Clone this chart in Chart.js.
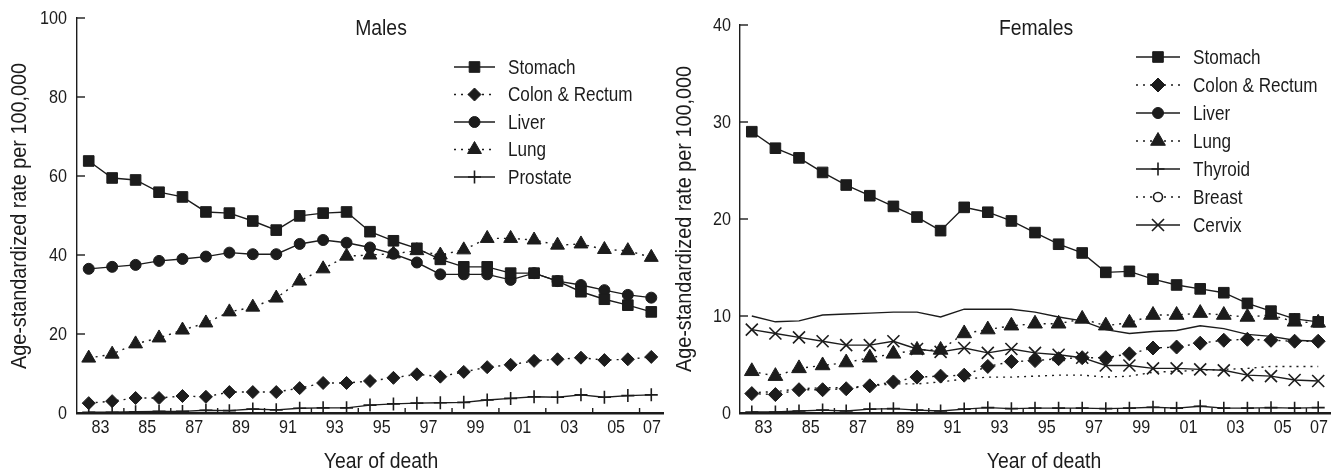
<!DOCTYPE html>
<html>
<head>
<meta charset="utf-8">
<script src="https://cdn.jsdelivr.net/npm/chart.js@4.4.1/dist/chart.umd.min.js"></script>
<style>
  html, body { margin: 0; padding: 0; background: #fff; }
  #wrap { display: flex; width: 1344px; height: 475px; }
  canvas { display: block; }
</style>
</head>
<body>
<div id="wrap">
  <canvas id="males" width="672" height="475"></canvas>
  <canvas id="females" width="672" height="475"></canvas>
</div>
<script>
/* Age-standardized cancer mortality, 1983-2007 */
const yearLabels = ["83","84","85","86","87","88","89","90","91","92","93","94","95","96","97","98","99","00","01","02","03","04","05","06","07"];

const maleStomach  = [63.8, 59.5, 59.0, 55.9, 54.7, 50.9, 50.6, 48.6, 46.3, 49.9, 50.6, 50.9, 45.9, 43.6, 41.7, 38.9, 37.0, 37.0, 35.4, 35.4, 33.4, 30.7, 28.8, 27.3, 25.6];
const maleColon    = [2.5, 3.0, 3.8, 3.8, 4.3, 4.1, 5.3, 5.3, 5.3, 6.3, 7.6, 7.6, 8.1, 8.9, 9.8, 9.2, 10.4, 11.6, 12.2, 13.2, 13.6, 14.0, 13.4, 13.6, 14.2];
const maleLiver    = [36.5, 37.0, 37.5, 38.5, 39.0, 39.6, 40.6, 40.2, 40.2, 42.8, 43.8, 43.1, 41.9, 40.3, 38.1, 35.1, 35.1, 35.1, 33.7, 35.4, 33.4, 32.4, 31.1, 29.9, 29.2];
const maleLung     = [13.9, 14.9, 17.5, 19.0, 21.0, 22.8, 25.6, 26.8, 29.1, 33.4, 36.5, 39.7, 40.0, 40.3, 41.1, 40.0, 41.3, 44.2, 44.2, 43.8, 42.5, 42.8, 41.4, 41.1, 39.4];
const maleProstate = [0.2, 0.2, 0.3, 0.4, 0.4, 0.7, 0.6, 1.0, 0.8, 1.2, 1.3, 1.3, 2.0, 2.3, 2.5, 2.6, 2.7, 3.3, 3.7, 4.1, 4.0, 4.6, 4.0, 4.4, 4.6];

const femaleStomach = [29.0, 27.3, 26.3, 24.8, 23.5, 22.4, 21.3, 20.2, 18.8, 21.2, 20.7, 19.8, 18.6, 17.4, 16.5, 14.5, 14.6, 13.8, 13.2, 12.8, 12.4, 11.3, 10.5, 9.7, 9.4];
const femaleColon   = [2.0, 1.9, 2.4, 2.4, 2.5, 2.8, 3.2, 3.7, 3.8, 3.9, 4.8, 5.3, 5.4, 5.6, 5.7, 5.7, 6.1, 6.7, 6.8, 7.2, 7.5, 7.6, 7.5, 7.4, 7.4];
const femaleLiver   = [10.0, 9.4, 9.5, 10.1, 10.2, 10.3, 10.4, 10.4, 9.9, 10.7, 10.7, 10.7, 10.4, 9.9, 9.5, 8.6, 8.2, 8.4, 8.5, 9.0, 8.7, 8.1, 7.9, 7.5, 7.4];
const femaleLung    = [4.3, 3.8, 4.6, 4.9, 5.2, 5.7, 6.1, 6.5, 6.5, 8.2, 8.6, 9.0, 9.2, 9.2, 9.7, 9.0, 9.3, 10.1, 10.1, 10.3, 10.1, 9.9, 10.1, 9.4, 9.3];
const femaleThyroid = [0.1, 0.1, 0.2, 0.3, 0.2, 0.4, 0.45, 0.3, 0.2, 0.4, 0.55, 0.45, 0.5, 0.5, 0.5, 0.45, 0.5, 0.6, 0.5, 0.7, 0.5, 0.5, 0.55, 0.5, 0.55];
const femaleBreast  = [2.1, 2.2, 2.5, 2.6, 2.6, 2.8, 3.0, 3.0, 3.2, 3.5, 3.7, 3.7, 3.8, 3.9, 3.9, 3.7, 3.8, 4.2, 4.3, 4.4, 4.5, 4.6, 4.8, 4.8, 4.8];
const femaleCervix  = [8.6, 8.2, 7.8, 7.4, 7.0, 7.0, 7.4, 6.6, 6.3, 6.7, 6.2, 6.6, 6.2, 6.0, 5.7, 4.9, 4.9, 4.6, 4.6, 4.5, 4.4, 3.9, 3.8, 3.4, 3.3];

const maleTicks   = [0, 20, 40, 60, 80, 100];
const femaleTicks = [0, 10, 20, 30, 40];

const INK  = "#1c1c1c";
const FONT = "'Liberation Sans', Arial, sans-serif";
const DOTS = [2, 5];
// text styles: [size px, horizontal squeeze] to look like a condensed grotesque
const TICK_TXT   = [19, 0.85];
const LEGEND_TXT = [21, 0.815];
const TITLE_TXT  = [22, 0.88];
const YTITLE_TXT = [22, 0.9];

function series(label, data, dotted, pointStyle, radius, legendPoint, legendRadius, open) {
  return {
    label, data,
    borderColor: INK, borderWidth: 1.4,
    borderDash: dotted ? DOTS : [],
    backgroundColor: INK,
    pointStyle, pointRadius: radius, pointHoverRadius: radius,
    pointBorderColor: INK, pointBackgroundColor: INK, pointBorderWidth: pointStyle === "cross" || pointStyle === "crossRot" ? 1.6 : 1,
    legendPoint: legendPoint || pointStyle, legendRadius: legendRadius || radius, legendOpen: !!open,
    tension: 0, fill: false
  };
}

function line(ctx, x1, y1, x2, y2) {
  ctx.beginPath(); ctx.moveTo(x1, y1); ctx.lineTo(x2, y2); ctx.stroke();
}

// condensed text: scale along the text direction only
function text(ctx, s, x, y, style, align, rot) {
  ctx.save();
  ctx.translate(x, y);
  if (rot) ctx.rotate(rot);
  ctx.scale(style[1], 1);
  ctx.font = style[0] + "px " + FONT;
  ctx.textAlign = align;
  ctx.textBaseline = "middle";
  ctx.fillStyle = INK;
  ctx.fillText(s, 0, 0);
  ctx.restore();
}

const decor = {
  id: "decor",
  afterDraw(chart, args, o) {
    const { ctx, chartArea: a, scales: { x, y } } = chart;
    ctx.save();
    ctx.strokeStyle = INK;
    ctx.lineWidth = 1.4;
    ctx.setLineDash([]);

    /* y ticks: inward marks + labels */
    y.ticks.forEach(t => {
      const py = y.getPixelForValue(t.value);
      line(ctx, a.left, py, a.left + 8, py);
      text(ctx, String(t.value), a.left - o.yLabelGap, py + 1, TICK_TXT, "right");
    });

    /* x ticks: inward marks between every other pair, labels every other year */
    const step = x.getPixelForValue(1) - x.getPixelForValue(0);
    for (let i = 1; i < yearLabels.length - 1; i += 2) {
      const px = x.getPixelForValue(i) + step / 2;
      line(ctx, px, a.bottom, px, a.bottom - 5);
    }
    for (let i = 0; i < yearLabels.length; i += 2) {
      const px = Math.min(x.getPixelForValue(i) + step / 2, a.right - 11);
      text(ctx, yearLabels[i], px, a.bottom + 15, TICK_TXT, "center");
    }

    /* titles */
    text(ctx, o.title, o.titleX, 29, TITLE_TXT, "center");
    text(ctx, "Year of death", o.xTitleX, 462, TITLE_TXT, "center");
    text(ctx, "Age-standardized rate per 100,000", o.yTitleX, o.yTitleY, YTITLE_TXT, "center", -Math.PI / 2);

    /* legend */
    chart.data.datasets.forEach((d, i) => {
      const ly = o.legendY + i * o.legendDy;
      const x0 = o.legendX, x1 = o.legendX + o.legendW;
      ctx.strokeStyle = INK;
      ctx.lineWidth = 1.4;
      ctx.setLineDash(d.borderDash);
      line(ctx, x0, ly, x1, ly);
      ctx.setLineDash([]);
      ctx.fillStyle = d.legendOpen ? "#fff" : INK;
      ctx.lineWidth = d.legendOpen ? 1.6 : d.pointBorderWidth;
      Chart.helpers.drawPoint(ctx, { pointStyle: d.legendPoint, radius: d.legendRadius, borderWidth: ctx.lineWidth, rotation: 0 }, (x0 + x1) / 2, ly);
      text(ctx, d.label, x1 + 13, ly + 1, LEGEND_TXT, "left");
    });
    ctx.restore();
  }
};

function makeChart(id, datasets, yMax, tickValues, yWidth, pad, deco) {
  return new Chart(document.getElementById(id), {
    type: "line",
    data: { labels: yearLabels, datasets },
    plugins: [decor],
    options: {
      responsive: false,
      animation: false,
      layout: { padding: pad },
      plugins: { legend: { display: false }, title: { display: false }, tooltip: { enabled: false }, decor: deco },
      scales: {
        x: {
          type: "category", offset: true,
          grid: { display: false, drawTicks: false },
          border: { display: true, color: INK, width: 2.5 },
          afterFit: s => { s.height = 62; },
          ticks: { display: false, autoSkip: false }
        },
        y: {
          min: 0, max: yMax,
          grid: { display: false, drawTicks: false },
          border: { display: true, color: INK, width: 1.4 },
          afterFit: s => { s.width = yWidth; },
          afterBuildTicks: s => { s.ticks = tickValues.map(v => ({ value: v })); },
          ticks: { display: false }
        }
      }
    }
  });
}

makeChart("males", [
  series("Stomach", maleStomach, false, "rect", 7.5),
  series("Colon & Rectum", maleColon, true, "rectRot", 6.5),
  series("Liver", maleLiver, false, "circle", 5.5),
  series("Lung", maleLung, true, "triangle", 8),
  series("Prostate", maleProstate, false, "cross", 6.5)
], 100, maleTicks, 77, { top: 18, right: 7, left: 0, bottom: 0 },
{ title: "Males", titleX: 381, xTitleX: 381, yTitleX: 20, yTitleY: 216, yLabelGap: 10, legendX: 454, legendW: 41, legendY: 67, legendDy: 27.5 });

makeChart("females", [
  series("Stomach", femaleStomach, false, "rect", 7.5),
  series("Colon & Rectum", femaleColon, true, "rectRot", 7),
  series("Liver", femaleLiver, false, false, 0, "circle", 5.5),
  series("Lung", femaleLung, true, "triangle", 8.5),
  series("Thyroid", femaleThyroid, false, "cross", 6.5),
  series("Breast", femaleBreast, true, false, 0, "circle", 4.5, true),
  series("Cervix", femaleCervix, false, "crossRot", 8.5)
], 40, femaleTicks, 68, { top: 25, right: 14, left: 0, bottom: 0 },
{ title: "Females", titleX: 364, xTitleX: 372, yTitleX: 13, yTitleY: 219, yLabelGap: 9, legendX: 464, legendW: 44, legendY: 57, legendDy: 28 });
</script>
</body>
</html>
